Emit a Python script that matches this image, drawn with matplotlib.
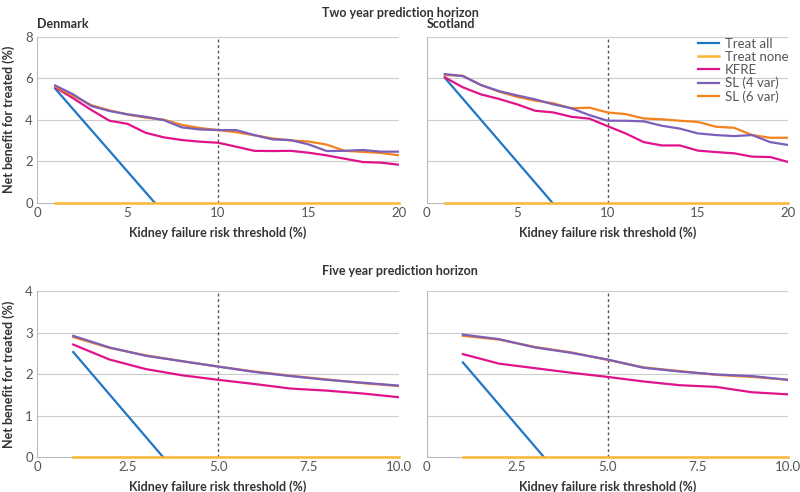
import matplotlib.pyplot as plt

plt.rcParams['font.family'] = ['Lato', 'DejaVu Sans']

# two year horizon, thresholds 1..20 %
x2 = list(range(1, 21))
dk_kfre = [5.56, 5.03, 4.47, 3.95, 3.8, 3.37, 3.15, 3.02, 2.94, 2.89,
           2.7, 2.5, 2.49, 2.5, 2.41, 2.28, 2.12, 1.96, 1.93, 1.83]
dk_sl4 = [5.65, 5.22, 4.66, 4.42, 4.26, 4.14, 3.98, 3.63, 3.53, 3.5,
          3.5, 3.26, 3.05, 3.02, 2.81, 2.49, 2.5, 2.54, 2.46, 2.46]
dk_sl6 = [5.6, 5.15, 4.7, 4.45, 4.25, 4.1, 4.0, 3.75, 3.6, 3.5,
          3.4, 3.25, 3.1, 3.0, 2.95, 2.8, 2.5, 2.45, 2.4, 2.28]
dk_all_x = [1, 6.5]
dk_all_y = [5.5, 0]

sc_kfre = [6.04, 5.56, 5.22, 5.0, 4.74, 4.43, 4.35, 4.14, 4.05, 3.69,
           3.34, 2.92, 2.76, 2.76, 2.51, 2.44, 2.38, 2.22, 2.2, 1.96]
sc_sl4 = [6.2, 6.1, 5.67, 5.38, 5.17, 4.98, 4.74, 4.55, 4.22, 3.95,
          3.95, 3.92, 3.71, 3.57, 3.34, 3.26, 3.21, 3.26, 2.92, 2.78]
sc_sl6 = [6.15, 6.12, 5.67, 5.35, 5.1, 4.92, 4.79, 4.55, 4.58, 4.35,
          4.27, 4.06, 4.02, 3.95, 3.89, 3.66, 3.61, 3.26, 3.13, 3.13]
sc_all_x = [1, 6.95]
sc_all_y = [6.02, 0]

# five year horizon, thresholds 1..10 %
x5 = list(range(1, 11))
dk5_kfre = [2.71, 2.35, 2.12, 1.97, 1.86, 1.76, 1.65, 1.6, 1.53, 1.44]
dk5_sl4 = [2.92, 2.64, 2.44, 2.31, 2.18, 2.05, 1.95, 1.86, 1.79, 1.72]
dk5_sl6 = [2.89, 2.63, 2.45, 2.31, 2.18, 2.06, 1.96, 1.87, 1.78, 1.71]
dk5_all_x = [1, 3.48]
dk5_all_y = [2.53, 0]

sc5_kfre = [2.48, 2.25, 2.14, 2.03, 1.93, 1.82, 1.73, 1.69, 1.56, 1.51]
sc5_sl4 = [2.95, 2.84, 2.64, 2.51, 2.35, 2.15, 2.06, 1.99, 1.95, 1.86]
sc5_sl6 = [2.92, 2.83, 2.65, 2.52, 2.34, 2.16, 2.07, 1.98, 1.93, 1.86]
sc5_all_x = [1, 3.24]
sc5_all_y = [2.28, 0]

c_all = '#1f77c4'
c_none = '#fbb632'
c_kfre = '#e0138c'
c_sl4 = '#7b5fb8'
c_sl6 = '#f58220'
grey = '#bbbbbb'
txt = '#333333'

fig = plt.figure(figsize=(8, 4.92), dpi=100)


def panel(pos, xs, kfre, sl4, sl6, ax_x, ax_y, xmax, ymax, yticks, xticks,
          xticklabels, cutoff, left, title=None, legend=False):
    ax = fig.add_axes(pos)
    ax.set_xlim(0, xmax)
    ax.set_ylim(0, ymax)
    for y in yticks[1:]:
        ax.axhline(y, color='#cccccc', lw=0.8, zorder=0)
    ax.axvline(cutoff, color='#555555', lw=1, ls=(0, (2, 2)), zorder=1)
    ax.plot(ax_x, ax_y, color=c_all, lw=1.6, label='Treat all')
    ax.plot([xs[0], xs[-1]], [0, 0], color=c_none, lw=1.8, label='Treat none',
            clip_on=False, zorder=3)
    ax.plot(xs, kfre, color=c_kfre, lw=1.6, label='KFRE')
    ax.plot(xs, sl6, color=c_sl6, lw=1.6, label='SL (6 var)', zorder=2)
    ax.plot(xs, sl4, color=c_sl4, lw=1.6, label='SL (4 var)', zorder=2)
    for s in ['top', 'right']:
        ax.spines[s].set_visible(False)
    ax.spines['left'].set_color(grey)
    ax.spines['bottom'].set_color(grey)
    ax.tick_params(length=0, labelsize=9.5, colors='#555555', pad=3)
    ax.set_yticks(yticks)
    ax.set_xticks(xticks)
    ax.set_xticklabels(xticklabels)
    if left:
        ax.set_ylabel('Net benefit for treated (%)', fontsize=9,
                      fontweight='bold', color=txt, labelpad=7)
    else:
        ax.set_yticklabels([])
    ax.set_xlabel('Kidney failure risk threshold (%)', fontsize=9,
                  fontweight='bold', color=txt, labelpad=5)
    if title:
        ax.text(0, 1.04, title, transform=ax.transAxes, ha='left',
                va='bottom', fontsize=9, fontweight='bold', color=txt)
    if legend:
        h, l = ax.get_legend_handles_labels()
        order = [0, 1, 2, 4, 3]
        ax.legend([h[i] for i in order], [l[i] for i in order],
                  loc='upper right', bbox_to_anchor=(1.0, 0.995),
                  frameon=False, fontsize=9.5, handlelength=1.6,
                  handletextpad=0.45, labelspacing=0.08, borderaxespad=0,
                  borderpad=0, labelcolor='#555555')
    return ax


xt2 = [0, 5, 10, 15, 20]
xt5 = [0, 2.5, 5, 7.5, 10]
xt5_lab = ['0', '2.5', '5.0', '7.5', '10.0']

panel([0.0463, 0.588, 0.4525, 0.3374], x2, dk_kfre, dk_sl4, dk_sl6,
      dk_all_x, dk_all_y, 20, 8, [0, 2, 4, 6, 8], xt2, [str(v) for v in xt2],
      10, True, title='Denmark')
panel([0.5334, 0.588, 0.452, 0.3374], x2, sc_kfre, sc_sl4, sc_sl6,
      sc_all_x, sc_all_y, 20, 8, [0, 2, 4, 6, 8], xt2, [str(v) for v in xt2],
      10, False, title='Scotland', legend=True)
panel([0.0463, 0.0711, 0.4525, 0.3374], x5, dk5_kfre, dk5_sl4, dk5_sl6,
      dk5_all_x, dk5_all_y, 10, 4, [0, 1, 2, 3, 4], xt5, xt5_lab,
      5, True)
panel([0.5334, 0.0711, 0.452, 0.3374], x5, sc5_kfre, sc5_sl4, sc5_sl6,
      sc5_all_x, sc5_all_y, 10, 4, [0, 1, 2, 3, 4], xt5, xt5_lab,
      5, False)

fig.text(0.5, 0.986, 'Two year prediction horizon', ha='center', va='top',
         fontsize=9, fontweight='bold', color=txt)
fig.text(0.5, 0.462, 'Five year prediction horizon', ha='center', va='top',
         fontsize=9, fontweight='bold', color=txt)

fig.savefig('out.png', dpi=100)
